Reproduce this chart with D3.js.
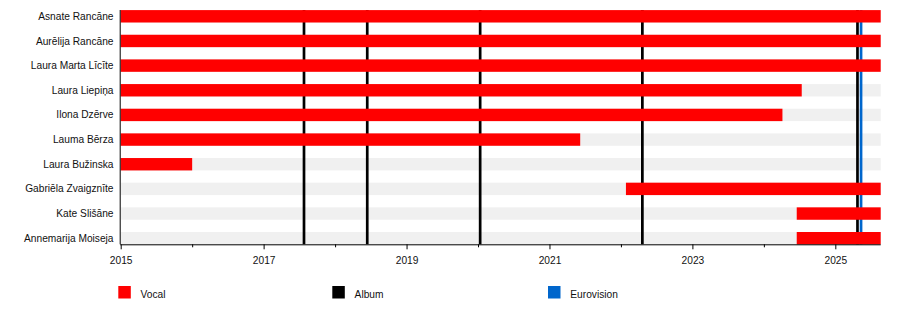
<!DOCTYPE html>
<html>
<head>
<meta charset="utf-8">
<script src="https://cdn.jsdelivr.net/npm/d3@7"></script>
<style>
  html, body { margin: 0; padding: 0; background: #fff; }
  svg { display: block; font-family: "Liberation Sans", Arial, sans-serif; }
</style>
</head>
<body>
<svg id="chart" width="900" height="324"></svg>
<script>
// Band members and their active periods (decimal years)
const members = [
  "Asnate Rancāne", "Aurēlija Rancāne", "Laura Marta Līcīte", "Laura Liepiņa",
  "Ilona Dzērve", "Lauma Bērza", "Laura Bužinska", "Gabriēla Zvaigznīte",
  "Kate Slišāne", "Annemarija Moiseja"
];
const memberStart = [2015, 2015, 2015, 2015, 2015, 2015, 2015, 2022.07, 2024.46, 2024.46];
const memberEnd   = [2025.635, 2025.635, 2025.635, 2024.53, 2024.26, 2021.43, 2016.0, 2025.635, 2025.635, 2025.635];

// Album releases and the Eurovision appearance
const albumDates = [2017.565, 2018.45, 2020.03, 2022.3, 2025.31];
const eurovisionDates = [2025.36];

const timelineStart = 2015;
const timelineEnd = 2025.635;
const majorTicks = [2015, 2017, 2019, 2021, 2023, 2025];
const minorTicks = [2016, 2018, 2020, 2022, 2024];

const legendLabels = ["Vocal", "Album", "Eurovision"];
const legendColors = ["#ff0000", "#000000", "#0066cc"];

const svg = d3.select("#chart");

const x = d3.scaleLinear().domain([timelineStart, timelineEnd]).range([120.7, 880.7]);
const y = d3.scalePoint().domain(members).range([16.3, 238.2]);
const barH = 12.4;
const plotTop = 10, plotBottom = 244.3;

// grey background rows
svg.append("g").selectAll("rect")
  .data(members)
  .join("rect")
  .attr("x", x(timelineStart))
  .attr("width", x(timelineEnd) - x(timelineStart))
  .attr("y", d => y(d) - barH / 2)
  .attr("height", barH)
  .attr("fill", "#f0f0f0");

// release / event lines
svg.append("g").selectAll("line.album")
  .data(albumDates)
  .join("line")
  .attr("x1", d => x(d)).attr("x2", d => x(d))
  .attr("y1", plotTop).attr("y2", plotBottom)
  .attr("stroke", legendColors[1]).attr("stroke-width", 2.7);

svg.append("g").selectAll("line.ev")
  .data(eurovisionDates)
  .join("line")
  .attr("x1", d => x(d)).attr("x2", d => x(d))
  .attr("y1", plotTop).attr("y2", plotBottom)
  .attr("stroke", legendColors[2]).attr("stroke-width", 2.7);

// membership bars
svg.append("g").selectAll("rect")
  .data(members)
  .join("rect")
  .attr("x", (d, i) => x(memberStart[i]))
  .attr("width", (d, i) => x(memberEnd[i]) - x(memberStart[i]))
  .attr("y", d => y(d) - barH / 2)
  .attr("height", barH)
  .attr("fill", legendColors[0]);

// member names
svg.append("g").selectAll("text")
  .data(members)
  .join("text")
  .attr("x", 113.5)
  .attr("y", d => y(d))
  .attr("dy", "0.35em")
  .attr("text-anchor", "end")
  .attr("font-size", "10.2px")
  .attr("fill", "#111")
  .text(d => d);

// left axis line
svg.append("line")
  .attr("x1", 120.2).attr("x2", 120.2)
  .attr("y1", plotTop).attr("y2", plotBottom)
  .attr("stroke", "#000").attr("stroke-width", 1);

// bottom axis: major ticks with labels, minor ticks without
const axisMajor = d3.axisBottom(x).tickValues(majorTicks).tickFormat(d3.format("d")).tickSizeInner(5).tickSizeOuter(0);
const gMajor = svg.append("g").attr("transform", `translate(0,${plotBottom})`).call(axisMajor);
gMajor.select(".domain").attr("d", `M${x(timelineStart) - 0.5},0.5H${x(timelineEnd)}`).attr("stroke", "#000");
gMajor.selectAll(".tick text").attr("font-size", "10.2px").attr("fill", "#111")
  .attr("font-family", "'Liberation Sans', Arial, sans-serif").attr("dy", "1.1em");
gMajor.selectAll(".tick line").attr("stroke", "#000");

const axisMinor = d3.axisBottom(x).tickValues(minorTicks).tickFormat("").tickSizeInner(3).tickSizeOuter(0);
const gMinor = svg.append("g").attr("transform", `translate(0,${plotBottom})`).call(axisMinor);
gMinor.select(".domain").remove();
gMinor.selectAll(".tick line").attr("stroke", "#000");

// legend
const legendX = [118.3, 332.3, 548];
const legend = svg.append("g").selectAll("g")
  .data(legendLabels)
  .join("g")
  .attr("transform", (d, i) => `translate(${legendX[i]},286)`);
legend.append("rect")
  .attr("width", 12.5).attr("height", 12.5)
  .attr("fill", (d, i) => legendColors[i]);
legend.append("text")
  .attr("x", 22.3).attr("y", 12.3)
  .attr("font-size", "10.2px").attr("fill", "#111")
  .text(d => d);
</script>
</body>
</html>
